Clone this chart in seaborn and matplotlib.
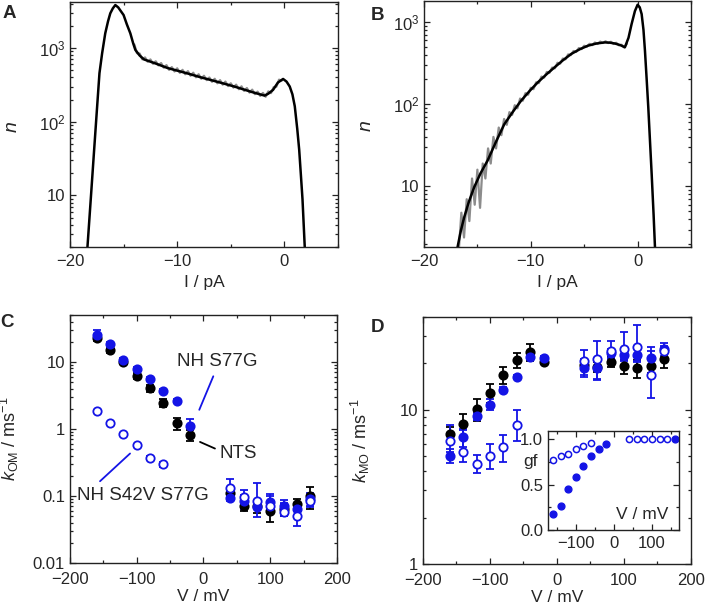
import numpy as np
import matplotlib
matplotlib.use("Agg")
import matplotlib.pyplot as plt
import seaborn as sns
from matplotlib.ticker import FixedLocator, FixedFormatter, LogLocator, MultipleLocator, NullFormatter

BLUE = "#1414e6"
GREY = "#8c8c8c"

# ---- panel A: current histogram, fit (black) and data (grey)
a_fit_i = [-18.6, -18.37, -18.0, -17.8, -17.5, -17.25, -17.0, -16.71, -16.45, -16.24,
           -16.0, -15.77, -15.5, -15.25, -15.0, -14.7, -14.37, -14.1, -13.9, -13.5,
           -13.1, -12.0, -10.9, -9.0, -7.8, -6.0, -4.67, -3.0, -1.85, -1.5,
           -1.06, -0.6, -0.12, 0.2, 0.5, 0.75, 0.97, 1.2, 1.38, 1.55, 1.69, 1.9, 2.1]
a_fit_n = [1.0, 2.0, 12, 32, 137, 455, 850, 1580, 2300, 2950,
           3450, 3820, 3550, 3150, 2800, 2100, 1580, 1150, 940, 790,
           700, 615, 535, 450, 400, 340, 300, 252, 226, 240,
           270, 340, 380, 350, 300, 235, 162, 80, 42, 18, 8.9, 2.0, 0.5]
a_hist_start, a_hist_step = -14.0, 0.25
a_hist_n = [1120, 850, 840, 700, 745, 650, 700, 610, 660, 580,
            625, 540, 585, 505, 550, 480, 530, 460, 505, 440,
            485, 420, 462, 400, 440, 382, 420, 366, 398, 348,
            382, 332, 366, 318, 350, 304, 332, 290, 318, 276,
            302, 262, 286, 248, 272, 236, 256, 224, 246, 218,
            258, 244, 294, 298, 372, 360]

# ---- panel B
b_fit_i = [-17.2, -16.87, -16.55, -16.24, -15.8, -15.3, -14.7, -14.04, -13.3, -12.48,
           -11.7, -10.91, -10.1, -9.34, -8.5, -7.77, -7.0, -6.2, -5.4, -4.64,
           -3.85, -3.07, -2.6, -2.13, -1.6, -1.19, -0.85, -0.56, -0.25, 0.0,
           0.2, 0.38, 0.55, 0.69, 0.85, 1.0, 1.15, 1.32, 1.5, 1.63, 1.8]
b_fit_n = [0.9, 1.8, 2.9, 4.2, 6.5, 9.8, 14.5, 20.7, 34, 57,
           80, 110, 145, 184, 232, 280, 340, 408, 465, 513,
           545, 562, 558, 545, 520, 490, 640, 940, 1350, 1610,
           1500, 1240, 800, 445, 200, 92, 38, 14, 4.5, 1.8, 0.6]
b_hist_start, b_hist_step = -16.75, 0.25
b_hist_n = [1.6, 4.8, 2.4, 7.0, 3.8, 12.5, 6.0, 16, 5.5, 19,
            12.5, 29, 19, 40, 29, 52, 42, 66, 56, 80,
            74, 97, 89, 117, 110, 136, 130, 158, 152, 184,
            180, 216, 210, 246, 240, 278, 272, 318, 310, 358,
            350, 402, 394, 442, 430, 480, 466, 512, 498, 540,
            520, 560, 538, 575, 552, 580, 552, 572, 538, 556,
            518, 526, 488, 540]

# ---- panels C and D: rate constants vs voltage
v_all = [-160, -140, -120, -100, -80, -60, -40, -20, 40, 60, 80, 100, 120, 140, 160]
v_s42v = [-160, -140, -120, -100, -80, -60, 40, 60, 80, 100, 120, 140, 160]

c_nts = [23, 15.3, 10.0, 6.2, 4.1, 2.45, 1.22, 0.8, 0.111, 0.072, 0.071, 0.059, 0.063, 0.076, 0.10]
c_nts_err = [2.5, 1.5, 0.8, 0.6, 0.5, 0.3, 0.25, 0.15, 0.015, 0.012, 0.015, 0.018, 0.012, 0.015, 0.035]
c_s77g = [25.4, 18.2, 10.8, 7.9, 5.6, 3.65, 2.6, 1.1, 0.093, 0.083, 0.068, 0.08, 0.071, 0.063, 0.091]
c_s77g_err = [4, 1.5, 0.8, 0.6, 0.4, 0.25, 0.2, 0.3, 0.01, 0.02, 0.02, 0.02, 0.015, 0.015, 0.02]
c_s42v = [1.86, 1.22, 0.83, 0.58, 0.37, 0.30, 0.132, 0.098, 0.083, 0.071, 0.058, 0.050, 0.083]
c_s42v_lo = [0.05, 0.04, 0.03, 0.02, 0.02, 0.025, 0.022, 0.02, 0.015, 0.015, 0.008, 0.014, 0.015]
c_s42v_hi = [0.05, 0.04, 0.03, 0.02, 0.02, 0.025, 0.048, 0.024, 0.072, 0.036, 0.02, 0.01, 0.015]

d_nts = [6.95, 8.1, 10.1, 12.8, 16.8, 21.1, 23.8, 20.4, 19.5, 19.0, 20.4, 19.1, 18.6, 19.3, 21.3]
d_nts_err = [0.8, 1.3, 1.6, 1.8, 2.2, 2.4, 3.0, 0.6, 1.5, 1.5, 1.5, 2.0, 2.5, 2.0, 2.5]
d_s77g = [5.05, 6.65, 9.05, 10.8, 13.5, 16.4, 22.0, 21.7, 18.8, 18.8, 23.3, 22.8, 22.8, 21.7, 24.8]
d_s77g_err = [0.5, 0.9, 0.5, 0.9, 0.5, 0.5, 0.5, 0.6, 2.5, 3.0, 1.5, 1.5, 2.0, 2.5, 2.5]
d_s42v = [6.3, 5.3, 4.44, 5.0, 5.7, 8.0, 20.8, 21.3, 24.2, 24.8, 25.5, 16.9, 24.0]
d_s42v_lo = [1.0, 0.7, 0.55, 0.86, 1.1, 1.7, 3.9, 5.6, 3.0, 4.0, 5.0, 4.9, 2.0]
d_s42v_hi = [1.7, 2.1, 0.66, 1.0, 1.2, 2.0, 3.7, 6.7, 3.8, 7.0, 10.0, 8.8, 2.0]

# ---- inset: gating factor
gf_s77g_v = [-160, -140, -120, -100, -80, -60, -40, -20, 160]
gf_s77g = [0.18, 0.26, 0.45, 0.58, 0.70, 0.81, 0.89, 0.95, 1.0]
gf_s42v_v = [-160, -140, -120, -100, -80, -60, 40, 60, 80, 100, 120, 140]
gf_s42v = [0.77, 0.81, 0.84, 0.89, 0.93, 0.96, 1.0, 1.0, 1.0, 1.0, 1.0, 1.0]

sns.set_style("ticks")
plt.rcParams["font.family"] = ["Liberation Sans", "DejaVu Sans"]
plt.rcParams["mathtext.fontset"] = "custom"
plt.rcParams["mathtext.rm"] = "Liberation Sans"
plt.rcParams["mathtext.it"] = "Liberation Sans:italic"
plt.rcParams["axes.linewidth"] = 1.0
plt.rcParams["axes.edgecolor"] = "#222222"

fig = plt.figure(figsize=(7.09, 6.09), dpi=100)
ax_a = fig.add_axes([0.0987, 0.5944, 0.378, 0.4023])
ax_b = fig.add_axes([0.598, 0.5944, 0.3766, 0.404])
ax_c = fig.add_axes([0.0987, 0.0755, 0.3766, 0.4072])
ax_d = fig.add_axes([0.5966, 0.0739, 0.378, 0.4056])
ax_in = fig.add_axes([0.773, 0.1297, 0.1848, 0.1626])


def style_ticks(ax, size=12, xpad=5):
    ax.tick_params(which="both", direction="in", top=True, right=True, labelsize=size,
                   color="#222222", width=0.9)
    ax.tick_params(which="major", length=4)
    ax.tick_params(which="minor", length=2.5)
    ax.tick_params(axis="x", which="both", pad=xpad)


def log_ticks(ax, ticks, labels):
    ax.set_yscale("log")
    ax.yaxis.set_major_locator(FixedLocator(ticks))
    ax.yaxis.set_major_formatter(FixedFormatter(labels))
    ax.yaxis.set_minor_locator(LogLocator(base=10, subs=np.arange(2, 10)))
    ax.yaxis.set_minor_formatter(NullFormatter())


def hist_panel(ax, start, step, hist_n, fit_i, fit_n, ylim):
    hist_i = start + step * np.arange(len(hist_n))
    sns.lineplot(x=hist_i, y=hist_n, ax=ax, color=GREY, lw=1.6, estimator=None, sort=False)
    sns.lineplot(x=fit_i, y=fit_n, ax=ax, color="black", lw=1.8, estimator=None, sort=False)
    log_ticks(ax, [10, 100, 1000], ["10", "10$^2$", "10$^3$"])
    ax.set_xlim(-20, 5)
    ax.set_ylim(*ylim)
    ax.xaxis.set_major_locator(MultipleLocator(10))
    ax.xaxis.set_minor_locator(MultipleLocator(5))
    ax.set_xlabel("I / pA", fontsize=12.5, labelpad=4)
    ax.set_ylabel("$n$", fontsize=14)
    ax.yaxis.set_label_coords(-0.183, 0.49)
    style_ticks(ax)


hist_panel(ax_a, a_hist_start, a_hist_step, a_hist_n, a_fit_i, a_fit_n, (2.0, 4200))
hist_panel(ax_b, b_hist_start, b_hist_step, b_hist_n, b_fit_i, b_fit_n, (1.84, 1790))


def rate_series(ax, v, k, err, filled, color, size=36):
    ax.errorbar(v, k, yerr=err, fmt="none", ecolor=color, elinewidth=1.3,
                capsize=3, capthick=1.3, zorder=2)
    face = color if filled else "white"
    sns.scatterplot(x=v, y=k, ax=ax, s=size, color=face, edgecolor=color,
                    linewidth=1.3, zorder=3)


for ax in (ax_c, ax_d):
    ax.set_xlim(-200, 200)
    ax.xaxis.set_major_locator(MultipleLocator(100))
    ax.xaxis.set_minor_locator(MultipleLocator(50))
    ax.set_xlabel("V / mV", fontsize=12.5, labelpad=1.5)
    style_ticks(ax, xpad=6.5)

rate_series(ax_c, v_all, c_nts, c_nts_err, True, "black")
rate_series(ax_c, v_all, c_s77g, c_s77g_err, True, BLUE)
rate_series(ax_c, v_s42v, c_s42v, [c_s42v_lo, c_s42v_hi], False, BLUE)
log_ticks(ax_c, [0.01, 0.1, 1, 10], ["0.01", "0.1", "1", "10"])
ax_c.set_ylim(0.01, 50)
ax_c.set_ylabel("$k_{\\mathrm{OM}}$ / ms$^{-1}$", fontsize=13)
ax_c.yaxis.set_label_coords(-0.182, 0.5)

line_kw = dict(arrowstyle="-", lw=1.3, shrinkA=0, shrinkB=0)
ax_c.annotate("", xy=(14.7, 6.1), xytext=(-6.3, 1.93), arrowprops=dict(color=BLUE, **line_kw))
ax_c.annotate("", xy=(17.2, 0.51), xytext=(-5.2, 0.64), arrowprops=dict(color="black", **line_kw))
ax_c.annotate("", xy=(-110, 0.43), xytext=(-155, 0.166), arrowprops=dict(color=BLUE, **line_kw))
ax_c.text(20, 10, "NH S77G", ha="center", va="center", fontsize=13.5)
ax_c.text(24, 0.43, "NTS", ha="left", va="center", fontsize=13.5)
ax_c.text(-190, 0.1, "NH S42V S77G", ha="left", va="center", fontsize=13.5)

rate_series(ax_d, v_all, d_nts, d_nts_err, True, "black")
rate_series(ax_d, v_all, d_s77g, d_s77g_err, True, BLUE)
rate_series(ax_d, v_s42v, d_s42v, [d_s42v_lo, d_s42v_hi], False, BLUE)
log_ticks(ax_d, [1, 10], ["1", "10"])
ax_d.set_ylim(1, 40)
ax_d.set_ylabel("$k_{\\mathrm{MO}}$ / ms$^{-1}$", fontsize=13)
ax_d.yaxis.set_label_coords(-0.19, 0.5)

# inset
sns.scatterplot(x=gf_s77g_v, y=gf_s77g, ax=ax_in, s=24, color=BLUE, edgecolor=BLUE, linewidth=1.0)
sns.scatterplot(x=gf_s42v_v, y=gf_s42v, ax=ax_in, s=20, color="white", edgecolor=BLUE, linewidth=1.1)
ax_in.set_xlim(-173, 171)
ax_in.set_ylim(0, 1.09)
ax_in.xaxis.set_major_locator(FixedLocator([-100, 0, 100]))
ax_in.xaxis.set_minor_locator(MultipleLocator(50))
ax_in.yaxis.set_major_locator(FixedLocator([0, 0.5, 1.0]))
ax_in.yaxis.set_major_formatter(FixedFormatter(["0.0", "0.5", "1.0"]))
ax_in.yaxis.set_minor_locator(MultipleLocator(0.25))
style_ticks(ax_in, size=12, xpad=4)
ax_in.text(0.52, 0.16, "V / mV", transform=ax_in.transAxes, ha="left", va="center", fontsize=12.5)
ax_in.text(-0.08, 0.69, "gf", transform=ax_in.transAxes, ha="right", va="center", fontsize=12.5)

for label, x, y in [("A", 0.003, 0.978), ("B", 0.523, 0.975), ("C", 0.0, 0.47), ("D", 0.523, 0.462)]:
    fig.text(x, y, label, fontsize=13.5, fontweight="bold", ha="left", va="center")

fig.savefig("out.png", dpi=100)
